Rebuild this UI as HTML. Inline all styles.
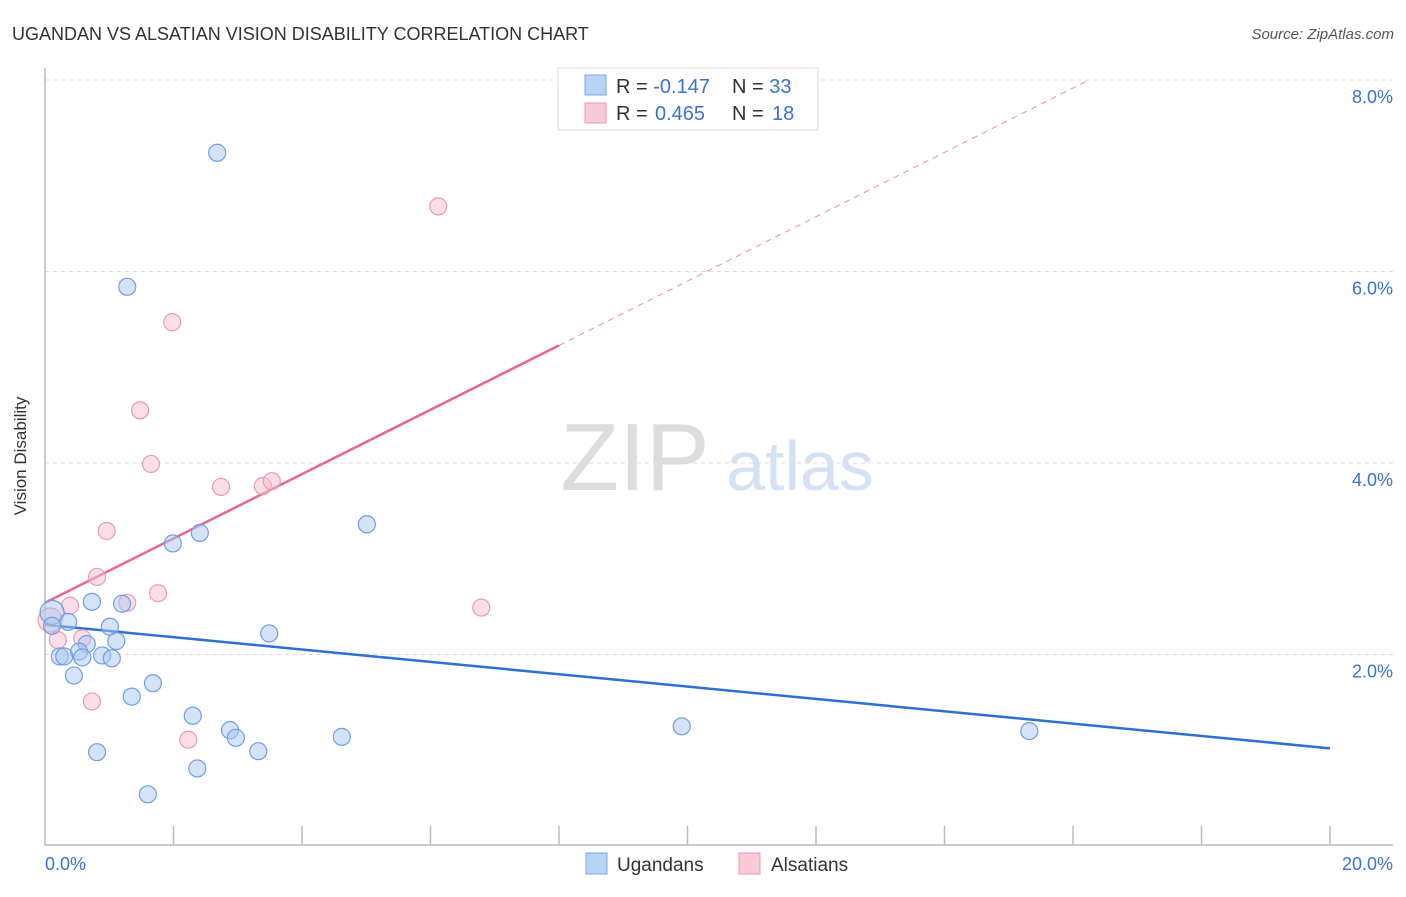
<!DOCTYPE html>
<html><head><meta charset="utf-8"><style>
body{margin:0;background:#fff;font-family:"Liberation Sans",sans-serif}
svg text{font-family:"Liberation Sans",sans-serif}
</style></head><body>
<svg width="1406" height="892" xmlns="http://www.w3.org/2000/svg">
<text x="12" y="40" font-size="18" fill="#333">UGANDAN VS ALSATIAN VISION DISABILITY CORRELATION CHART</text>
<text x="1394" y="39" font-size="15" fill="#555" font-style="italic" text-anchor="end">Source: ZipAtlas.com</text>
<text x="26" y="456" font-size="17" fill="#333" transform="rotate(-90 26 456)" text-anchor="middle">Vision Disability</text>
<g><text x="635" y="490" font-size="96" fill="#ddd" font-family="Liberation Serif" text-anchor="middle">ZIP</text><text x="800" y="490" font-size="70" fill="#d4e2f4" text-anchor="middle">atlas</text></g>
<g id="grid"></g><g id="axes"></g><g id="lines"></g><g id="pts"></g>
<g>
<rect x="558" y="68" width="260" height="62" fill="#fff" stroke="#ddd"/>
<rect x="585" y="75" width="21" height="20" fill="#b9d3f5" stroke="#7aa7e6"/>
<rect x="585" y="103" width="21" height="20" fill="#f9c9d6" stroke="#eb9ab1"/>
<text x="616" y="93" font-size="20" fill="#333">R = <tspan fill="#3a73d1">-0.147</tspan><tspan x="732">N = </tspan><tspan fill="#3a73d1">33</tspan></text>
<text x="616" y="120" font-size="20" fill="#333">R = <tspan fill="#3a73d1" x="655">0.465</tspan><tspan x="732">N = </tspan><tspan fill="#3a73d1" x="772">18</tspan></text>
</g>
<g>
<rect x="586" y="853" width="21" height="21" fill="#b9d3f5" stroke="#7aa7e6"/>
<text x="617" y="871" font-size="19" fill="#333">Ugandans</text>
<rect x="739" y="853" width="21" height="21" fill="#f9c9d6" stroke="#eb9ab1"/>
<text x="771" y="871" font-size="19" fill="#333">Alsatians</text>
</g>
</svg>
<script>
const yTicks=[2,4,6,8];
const yTickLabels=["2.0%","4.0%","6.0%","8.0%"];
const xTicks=[0,2,4,6,8,10,12,14,16,18,20];
const blueX=[2.68,1.28,5.01,2.41,1.99,0.73,1.20,0.11,0.36,0.11,1.01,3.49,0.65,1.11,0.53,0.89,1.04,0.23,0.30,0.58,0.45,1.68,1.35,2.30,2.88,2.97,4.62,0.81,3.32,2.37,1.60,9.91,15.32];
const blueY=[7.24,5.84,3.36,3.27,3.16,2.55,2.53,2.44,2.34,2.30,2.29,2.22,2.11,2.14,2.03,1.99,1.96,1.98,1.98,1.97,1.78,1.70,1.56,1.36,1.21,1.13,1.14,0.98,0.99,0.81,0.54,1.25,1.20];
const pinkX=[6.12,1.98,1.48,1.65,2.74,3.39,3.53,0.96,0.81,1.76,1.28,0.39,6.79,0.08,0.58,0.20,0.73,2.23];
const pinkY=[6.68,5.47,4.55,3.99,3.75,3.76,3.81,3.29,2.81,2.64,2.54,2.51,2.49,2.36,2.17,2.15,1.51,1.11];
const blueTrend=[2.31,1.02];
const pinkTrend=[2.54,0.336];
const NS="http://www.w3.org/2000/svg";
const X=v=>45+v*1285/20, Y=v=>846-v*95.75;
function mk(t,a,p){const e=document.createElementNS(NS,t);for(const k in a)e.setAttribute(k,a[k]);document.getElementById(p).appendChild(e);return e;}
yTicks.forEach((t,i)=>{
 const g=mk('line',{x1:45,x2:1393,y1:Y(t),y2:Y(t),stroke:'#ddd','stroke-dasharray':'4 4'},'grid');
 
 
 const l=mk('text',{x:1393,y:Y(t)+23,'font-size':18,fill:'#3a73d1','text-anchor':'end'},'axes');
 l.textContent=yTickLabels[i];
 
 
});
const ax=mk('path',{d:'M45 68V845H1393',fill:'none',stroke:'#bbb','stroke-width':1.5},'axes');


xTicks.slice(1).forEach(t=>{
 const k=mk('line',{x1:X(t),x2:X(t),y1:826,y2:845,stroke:'#bbb','stroke-width':1.5},'axes');
 
 
});
const x0=mk('text',{x:45,y:870,'font-size':18,fill:'#3a73d1'},'axes');x0.textContent='0.0%';


const x1=mk('text',{x:1393,y:870,'font-size':18,fill:'#3a73d1','text-anchor':'end'},'axes');x1.textContent='20.0%';


const bl=mk('line',{x1:X(0),y1:Y(blueTrend[0]),x2:X(20),y2:Y(blueTrend[1]),stroke:'#2c6fd6','stroke-width':2.5},'lines');


const pe=(8-pinkTrend[0])/pinkTrend[1];
const pd=mk('line',{x1:X(8),y1:Y(pinkTrend[0]+8*pinkTrend[1]),x2:X(pe),y2:Y(8),stroke:'#e890aa','stroke-width':1,'stroke-dasharray':'6 5'},'lines');


const pl=mk('line',{x1:X(0),y1:Y(pinkTrend[0]),x2:X(8),y2:Y(pinkTrend[0]+8*pinkTrend[1]),stroke:'#e8668f','stroke-width':2.5},'lines');


pinkX.forEach((v,i)=>{
 const c=mk('circle',{cx:X(v),cy:Y(pinkY[i]),r:i==13?12:8.5,fill:'rgba(249,190,208,0.5)',stroke:'#eb9ab1','stroke-width':1.2},'pts');
 
 
});
blueX.forEach((v,i)=>{
 const c=mk('circle',{cx:X(v),cy:Y(blueY[i]),r:i==7?12:8.5,fill:'rgba(170,200,242,0.5)',stroke:'#6f9fe2','stroke-width':1.2},'pts');
 
 
});
</script>
</body></html>
